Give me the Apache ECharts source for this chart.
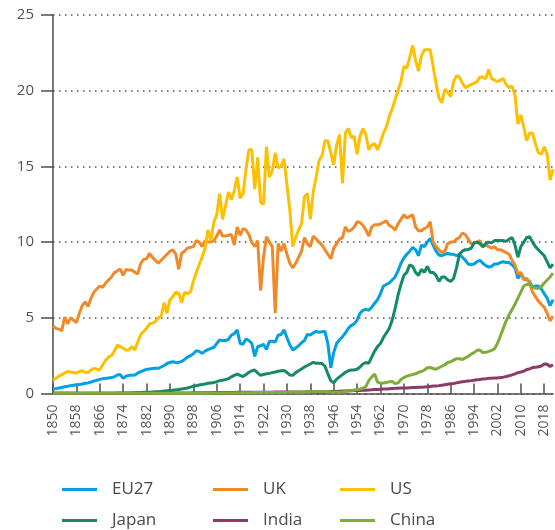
<!DOCTYPE html>
<html>
<head>
	<meta charset="utf-8">
	<title>CO2 per capita</title>
	<script src="https://cdn.jsdelivr.net/npm/echarts/dist/echarts.min.js"></script>
	<style>
		html, body {
			margin: 0;
			padding: 0;
			background: #fff;
		}
		#chart {
			width: 555px;
			height: 530px;
		}
	</style>
</head>
<body>
	<div id="chart"></div>
	<script>
	// years 1850 .. 2021
	var firstYear = 1850;
	var lastYear = 2021;
	var years = [];
	for (var y = firstYear; y <= lastYear; y++) {
		years.push(String(y));
	}
	var yTicks = [0, 5, 10, 15, 20, 25];

	var eu27 = [
		0.28, 0.32, 0.36, 0.4, 0.45, 0.48, 0.52, 0.55, 0.58, 0.6,
		0.63, 0.68, 0.7, 0.76, 0.82, 0.88, 0.93, 0.98, 1.0, 1.03,
		1.05, 1.1, 1.22, 1.25, 1.0, 1.15, 1.2, 1.2, 1.22, 1.35,
		1.45, 1.52, 1.6, 1.62, 1.65, 1.66, 1.66, 1.75, 1.85, 1.98,
		2.05, 2.1, 2.05, 2.05, 2.12, 2.25, 2.4, 2.5, 2.62, 2.83,
		2.78, 2.65, 2.8, 2.9, 2.98, 3.04, 3.3, 3.53, 3.5, 3.5,
		3.57, 3.85, 3.95, 4.2, 3.3, 3.25, 3.6, 3.5, 3.3, 2.45,
		3.1, 3.15, 3.25, 2.9, 3.45, 3.45, 3.4, 3.85, 3.9, 4.2,
		3.7, 3.2, 2.87, 3.0, 3.15, 3.35, 3.5, 3.9, 3.87, 4.0,
		4.1, 4.05, 4.08, 4.1, 3.3, 1.7, 2.7, 3.3, 3.55, 3.75,
		4.0, 4.3, 4.5, 4.6, 4.85, 5.3, 5.5, 5.56, 5.5, 5.7,
		5.96, 6.2, 6.6, 7.1, 7.2, 7.3, 7.5, 7.7, 8.1, 8.6,
		8.95, 9.2, 9.4, 9.65, 9.5, 9.1, 9.8, 9.7, 10.0, 10.25,
		9.8, 9.4, 9.15, 9.1, 9.2, 9.25, 9.2, 9.2, 9.1, 9.2,
		9.0, 8.8, 8.55, 8.5, 8.55, 8.7, 8.8, 8.6, 8.45, 8.35,
		8.4, 8.55, 8.55, 8.65, 8.7, 8.65, 8.65, 8.5, 8.3, 7.6,
		7.9, 7.6, 7.5, 7.4, 7.0, 7.1, 7.1, 6.9, 6.6, 6.3,
		5.8, 6.2
	];
	var uk = [
		4.46, 4.3, 4.25, 4.15, 5.05, 4.6, 5.0, 4.85, 4.68, 5.3,
		5.8, 6.05, 5.75, 6.3, 6.7, 6.9, 7.1, 7.0, 7.3, 7.5,
		7.7, 7.98, 8.1, 8.22, 7.8, 8.2, 8.15, 8.15, 8.0, 7.9,
		8.6, 8.86, 8.9, 9.26, 9.0, 8.8, 8.6, 8.8, 9.0, 9.2,
		9.4, 9.48, 9.2, 8.2, 9.26, 9.4, 9.6, 9.65, 9.7, 10.1,
		10.0, 9.7, 10.1, 10.0, 10.0, 10.1, 10.4, 10.8, 10.4, 10.4,
		10.45, 10.5, 9.8, 11.0, 10.45, 10.9, 10.8, 10.5, 9.96, 9.7,
		10.1, 6.8, 9.0, 10.35, 10.0, 9.7, 5.3, 9.9, 9.4, 9.9,
		9.2, 8.6, 8.3, 8.6, 9.0, 9.4, 10.3, 9.9, 9.7, 10.4,
		10.2, 10.0, 9.8, 9.5, 9.2, 8.9, 9.6, 9.9, 10.2, 10.3,
		11.0, 10.7, 10.8, 11.0, 11.35, 11.3, 11.1, 10.8, 10.4, 11.0,
		11.15, 11.15, 11.2, 11.3, 11.4, 11.1, 11.0, 10.8, 11.2, 11.5,
		11.8, 11.6, 11.7, 11.8, 11.0, 10.75, 10.75, 10.9, 11.0, 11.35,
		10.0, 9.7, 9.5, 9.3, 9.4, 9.9, 10.0, 10.0, 10.2, 10.3,
		10.6, 10.5, 10.2, 9.9, 9.9, 10.0, 10.1, 9.7, 9.8, 9.7,
		9.6, 9.7, 9.5, 9.5, 9.4, 9.3, 9.2, 8.8, 8.5, 7.9,
		8.0, 7.5, 7.6, 7.3, 6.7, 6.4, 6.1, 5.9, 5.7, 5.3,
		4.8, 5.1
	];
	var us = [
		0.9, 1.0, 1.15, 1.25, 1.35, 1.45, 1.42, 1.38, 1.35, 1.45,
		1.5, 1.4, 1.38, 1.55, 1.66, 1.6, 1.55, 1.9, 2.2, 2.4,
		2.5, 2.8, 3.2, 3.1, 3.0, 2.85, 2.9, 3.1, 2.87, 3.4,
		3.9, 4.1, 4.3, 4.6, 4.65, 4.75, 5.0, 5.1, 6.0, 5.3,
		6.2, 6.4, 6.7, 6.6, 6.0, 6.7, 6.6, 6.7, 7.4, 8.0,
		8.5, 9.0, 9.6, 10.8, 10.1, 11.3, 11.8, 13.2, 11.5, 12.4,
		13.3, 12.8, 13.4, 14.3, 12.9, 13.2, 14.8, 16.1, 16.1, 13.5,
		15.6, 12.6, 12.5, 16.3, 14.3, 14.7, 15.9, 14.9, 15.0, 15.5,
		13.8, 12.1, 9.7, 10.3, 10.8, 11.2, 13.0, 13.2, 11.5, 13.3,
		14.3, 15.4, 15.7, 16.7, 16.7, 15.9, 15.1, 16.4, 17.1, 13.9,
		17.2, 17.5, 16.9, 17.0, 15.8, 17.0, 17.5, 17.1, 16.1, 16.4,
		16.5, 16.1, 16.6, 17.2, 17.6, 18.3, 18.8, 19.4, 20.0, 20.6,
		21.6, 21.5, 22.2, 23.0, 22.0, 21.3, 22.3, 22.7, 22.7, 22.7,
		21.6, 20.5, 19.5, 19.2, 20.1, 19.9, 19.6, 20.6, 21.0, 20.9,
		20.5, 20.2, 20.3, 20.4, 20.5, 20.6, 20.9, 20.9, 20.8, 21.4,
		20.8, 20.7, 20.6, 20.7, 20.8, 20.4, 20.2, 20.3, 19.7, 17.8,
		18.4, 17.6, 16.7, 17.2, 17.2, 16.5, 15.9, 15.8, 16.3, 15.8,
		14.1, 14.8
	];
	var japan = [
		0.01, 0.01, 0.01, 0.01, 0.01, 0.01, 0.01, 0.01, 0.01, 0.01,
		0.01, 0.01, 0.01, 0.01, 0.01, 0.01, 0.01, 0.01, 0.02, 0.02,
		0.02, 0.02, 0.03, 0.03, 0.03, 0.04, 0.04, 0.05, 0.05, 0.06,
		0.07, 0.08, 0.08, 0.09, 0.1, 0.11, 0.12, 0.14, 0.16, 0.18,
		0.2, 0.22, 0.24, 0.27, 0.3, 0.33, 0.36, 0.42, 0.48, 0.52,
		0.56, 0.6, 0.63, 0.68, 0.7, 0.72, 0.78, 0.85, 0.88, 0.92,
		0.98, 1.1, 1.2, 1.28, 1.2, 1.12, 1.25, 1.4, 1.5, 1.55,
		1.35, 1.2, 1.25, 1.3, 1.33, 1.38, 1.42, 1.47, 1.5, 1.52,
		1.4, 1.22, 1.2, 1.38, 1.5, 1.62, 1.75, 1.85, 1.95, 2.06,
		2.0, 2.0, 1.98, 1.8, 1.3, 0.85, 0.7, 0.95, 1.1, 1.25,
		1.4, 1.5, 1.55, 1.55, 1.6, 1.75, 1.95, 2.05, 2.0, 2.4,
		2.8, 3.1, 3.3, 3.7, 4.0, 4.3, 4.85, 5.6, 6.5, 7.2,
		7.8, 8.0, 8.5, 8.4, 8.0, 7.8, 8.2, 8.0, 8.4, 8.0,
		8.0, 7.8, 7.4, 7.7, 7.7, 7.5, 7.4, 7.6, 8.3, 9.2,
		9.4, 9.5, 9.5, 9.6, 9.95, 10.0, 9.9, 9.7, 9.9, 10.0,
		9.95, 10.1, 10.1, 10.1, 10.1, 10.05, 10.2, 10.3, 9.8, 9.0,
		9.7, 10.0, 10.3, 10.35, 10.0, 9.7, 9.5, 9.3, 9.1, 8.7,
		8.3, 8.55
	];
	var india = [
		0.01, 0.01, 0.01, 0.01, 0.01, 0.01, 0.01, 0.01, 0.01, 0.01,
		0.01, 0.01, 0.01, 0.01, 0.01, 0.01, 0.01, 0.01, 0.01, 0.01,
		0.01, 0.01, 0.01, 0.01, 0.01, 0.02, 0.02, 0.02, 0.02, 0.02,
		0.02, 0.02, 0.02, 0.02, 0.03, 0.03, 0.03, 0.03, 0.03, 0.03,
		0.03, 0.03, 0.04, 0.04, 0.04, 0.04, 0.04, 0.04, 0.05, 0.05,
		0.05, 0.05, 0.05, 0.05, 0.05, 0.06, 0.06, 0.06, 0.07, 0.07,
		0.07, 0.07, 0.07, 0.08, 0.08, 0.08, 0.08, 0.09, 0.09, 0.09,
		0.09, 0.09, 0.09, 0.09, 0.09, 0.09, 0.1, 0.1, 0.1, 0.1,
		0.1, 0.1, 0.1, 0.1, 0.1, 0.1, 0.1, 0.11, 0.11, 0.12,
		0.12, 0.12, 0.12, 0.12, 0.13, 0.13, 0.14, 0.14, 0.15, 0.16,
		0.17, 0.18, 0.18, 0.19, 0.19, 0.2, 0.21, 0.22, 0.23, 0.24,
		0.26, 0.27, 0.28, 0.3, 0.3, 0.32, 0.33, 0.34, 0.35, 0.36,
		0.37, 0.37, 0.38, 0.39, 0.4, 0.41, 0.42, 0.43, 0.45, 0.47,
		0.49, 0.5, 0.52, 0.55, 0.58, 0.61, 0.64, 0.66, 0.7, 0.74,
		0.77, 0.8, 0.83, 0.85, 0.88, 0.91, 0.93, 0.96, 0.97, 1.0,
		1.01, 1.02, 1.03, 1.05, 1.08, 1.12, 1.17, 1.23, 1.3, 1.38,
		1.42, 1.48, 1.58, 1.62, 1.72, 1.74, 1.76, 1.82, 1.95, 1.93,
		1.78, 1.9
	];
	var china = [
		0.01, 0.01, 0.01, 0.01, 0.01, 0.01, 0.01, 0.01, 0.01, 0.01,
		0.01, 0.01, 0.01, 0.01, 0.01, 0.01, 0.01, 0.01, 0.01, 0.01,
		0.01, 0.01, 0.01, 0.01, 0.01, 0.01, 0.01, 0.01, 0.01, 0.01,
		0.01, 0.01, 0.01, 0.01, 0.01, 0.01, 0.01, 0.01, 0.01, 0.01,
		0.01, 0.01, 0.01, 0.01, 0.02, 0.02, 0.02, 0.02, 0.02, 0.02,
		0.02, 0.02, 0.02, 0.02, 0.02, 0.03, 0.03, 0.03, 0.03, 0.04,
		0.04, 0.04, 0.04, 0.05, 0.05, 0.05, 0.05, 0.05, 0.05, 0.06,
		0.06, 0.06, 0.06, 0.06, 0.06, 0.07, 0.07, 0.07, 0.07, 0.07,
		0.08, 0.08, 0.08, 0.08, 0.09, 0.09, 0.1, 0.1, 0.11, 0.12,
		0.13, 0.14, 0.14, 0.13, 0.12, 0.1, 0.09, 0.09, 0.08, 0.1,
		0.14, 0.17, 0.2, 0.23, 0.27, 0.3, 0.35, 0.45, 0.85, 1.1,
		1.28, 0.75, 0.68, 0.7, 0.72, 0.78, 0.8, 0.65, 0.7, 0.92,
		1.05, 1.15, 1.2, 1.25, 1.3, 1.4, 1.45, 1.55, 1.7, 1.72,
		1.65, 1.6, 1.7, 1.8, 1.9, 2.05, 2.1, 2.2, 2.3, 2.3,
		2.25, 2.35, 2.45, 2.6, 2.7, 2.85, 2.87, 2.7, 2.72, 2.78,
		2.85, 2.95, 3.3, 3.8, 4.3, 4.8, 5.2, 5.55, 5.9, 6.3,
		6.7, 7.1, 7.2, 7.2, 7.05, 6.95, 6.95, 7.05, 7.3, 7.5,
		7.7, 7.95
	];

	var names = ['EU27', 'UK', 'US', 'Japan', 'India', 'China'];
	var colors = ['#00a0e1', '#f08a28', '#fdc000', '#16896a', '#8b3b66', '#80ac3a'];
	var values = [eu27, uk, us, japan, india, china];

	var axisColor = '#4d4d48';
	var textColor = '#555550';
	var fontName = 'Open Sans';

	// legend: 2 rows x 3 columns
	var legendLeft = [57, 208, 335];
	var legendTop = [476, 507];
	var legends = [];
	for (var i = 0; i < names.length; i++) {
		legends.push({
			data: [names[i]],
			left: legendLeft[i % 3],
			top: legendTop[Math.floor(i / 3)],
			icon: 'rect',
			itemWidth: 35,
			itemHeight: 3,
			selectedMode: false,
			textStyle: {
				fontSize: 17,
				color: '#4a4a46',
				fontFamily: fontName,
				padding: [0, 0, 0, 10]
			}
		});
	}

	var series = [];
	for (var j = 0; j < names.length; j++) {
		series.push({
			name: names[j],
			type: 'line',
			data: values[j],
			symbol: 'none',
			showSymbol: false,
			color: colors[j],
			lineStyle: {
				width: 3,
				color: colors[j]
			}
		});
	}

	var chart = echarts.init(document.getElementById('chart'));
	chart.setOption({
		animation: false,
		backgroundColor: '#fff',
		grid: {
			left: 53,
			right: 2,
			top: 15,
			bottom: 136.5
		},
		legend: legends,
		xAxis: {
			type: 'category',
			data: years,
			boundaryGap: false,
			axisLine: {
				lineStyle: { color: axisColor, width: 1.5 }
			},
			axisTick: {
				interval: 7,
				inside: true,
				length: 10,
				lineStyle: { color: axisColor, width: 1.5 }
			},
			axisLabel: {
				interval: 7,
				rotate: 90,
				margin: 11,
				fontSize: 14,
				color: textColor,
				fontFamily: fontName
			},
			splitLine: { show: false }
		},
		yAxis: {
			type: 'value',
			min: yTicks[0],
			max: yTicks[yTicks.length - 1],
			interval: 5,
			axisLine: {
				show: true,
				lineStyle: { color: axisColor, width: 1.5 }
			},
			axisTick: {
				show: true,
				length: 12,
				lineStyle: { color: axisColor, width: 1.5 }
			},
			axisLabel: {
				margin: 19,
				fontSize: 15,
				color: textColor,
				fontFamily: fontName
			},
			splitLine: {
				show: true,
				lineStyle: {
					color: '#55554f',
					width: 1.5,
					type: [1.5, 4.5]
				}
			}
		},
		series: series
	});
	</script>
</body>
</html>
